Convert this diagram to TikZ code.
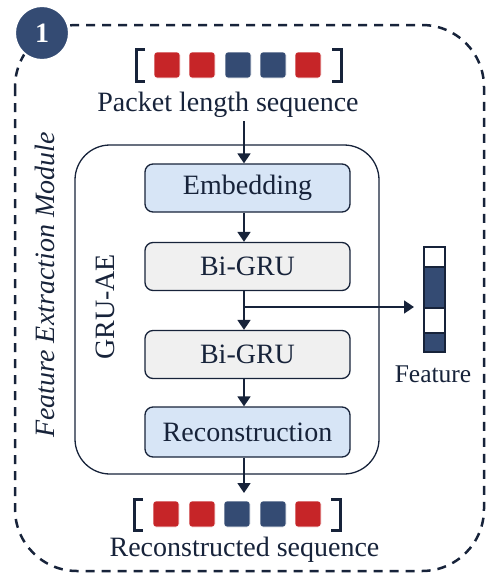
\documentclass[tikz,border=0pt]{standalone}
\usepackage{fontspec}
\setmainfont{Liberation Serif}
\usetikzlibrary{arrows.meta}
\definecolor{dk}{HTML}{17233A}
\definecolor{rd}{HTML}{C62528}
\definecolor{bl}{HTML}{344B73}
\definecolor{lb}{HTML}{D7E5F6}
\definecolor{lg}{HTML}{F0F0F0}
\tikzset{
  blk/.style={draw=dk, line width=1.3pt, rounded corners=8pt, minimum width=205pt, minimum height=48pt, font=\fontsize{28}{30}\selectfont, text=dk, inner sep=0pt},
  sq/.style={rounded corners=3pt, minimum size=26pt, inner sep=0pt, draw=white, line width=0.6pt},
  arr/.style={draw=dk, line width=1.8pt, -{Triangle[length=10pt,width=13pt]}},
  brk/.style={draw=dk, line width=3pt},
  lbl/.style={font=\fontsize{28}{30}\selectfont, text=dk, inner sep=0pt},
}
\begin{document}
\begin{tikzpicture}[x=1pt,y=-1pt]
\useasboundingbox (0,0) rectangle (486,573);
% outer dashed module
\draw[dk, line width=2.5pt, dash pattern=on 9pt off 7pt, rounded corners=62pt] (15,25) rectangle (484,571);
% number badge
\node[circle, fill=bl, draw=white, line width=2pt, minimum size=54pt, inner sep=0pt, text=white, font=\fontsize{28}{30}\selectfont\bfseries] (badge) at (42,33) {1};
% rotated module label
\node[lbl, rotate=90, font=\fontsize{28}{30}\selectfont\itshape] (modlbl) at (45,285) {Feature Extraction Module};
% GRU-AE box
\draw[dk, line width=1.3pt, rounded corners=35pt] (75,145) rectangle (379,474);
\node[lbl, rotate=90] (graelbl) at (105,307) {GRU-AE};
% top sequence
\foreach \x/\c [count=\i] in {167/rd,202/rd,238/bl,273/bl,308/rd}{
  \node[sq, fill=\c] (t\i) at (\x,65) {};
}
\draw[brk] (145,49) -- (136,49) -- (136,81) -- (145,81);
\draw[brk] (332,49) -- (341,49) -- (341,81) -- (332,81);
\node[lbl] (pls) at (228,105) {Packet length sequence};
% blocks
\node[blk, fill=lb] (emb) at (247.5,188) {Embedding};
\node[blk, fill=lg] (gru1) at (247.5,266.5) {Bi-GRU};
\node[blk, fill=lg] (gru2) at (247.5,354.5) {Bi-GRU};
\node[blk, fill=lb, minimum height=50pt] (rec) at (247.5,432) {Reconstruction};
% feature vector
\draw[dk, line width=1.3pt, fill=white] (424,247) rectangle (445,267);
\draw[dk, line width=1.3pt, fill=bl] (424,267) rectangle (445,308);
\draw[dk, line width=1.3pt, fill=white] (424,308) rectangle (445,333);
\draw[dk, line width=1.3pt, fill=bl] (424,333) rectangle (445,352);
\coordinate (feat) at (414,307);
\node[lbl, font=\fontsize{25.5}{27}\selectfont] (featlbl) at (433,374) {Feature};
% bottom sequence
\foreach \x/\c [count=\i] in {166/rd,202/rd,237/bl,273/bl,308/rd}{
  \node[sq, fill=\c] (b\i) at (\x,514) {};
}
\draw[brk] (143,499) -- (134,499) -- (134,530) -- (143,530);
\draw[brk] (331,499) -- (340,499) -- (340,530) -- (331,530);
\node[lbl] (rsq) at (244.5,550) {Reconstructed sequence};
% arrows
\coordinate (topA) at (244,121);
\coordinate (botA) at (244,493);
\draw[arr] (topA) -- (emb.north -| topA);
\draw[arr] (emb.south -| topA) -- (gru1.north -| topA);
\draw[arr] (gru1.south -| topA) -- (gru2.north -| topA);
\draw[arr] (gru2.south -| topA) -- (rec.north -| topA);
\draw[arr] (rec.south -| topA) -- (botA);
\draw[arr] (feat -| topA) -- (feat);
\end{tikzpicture}
\end{document}
